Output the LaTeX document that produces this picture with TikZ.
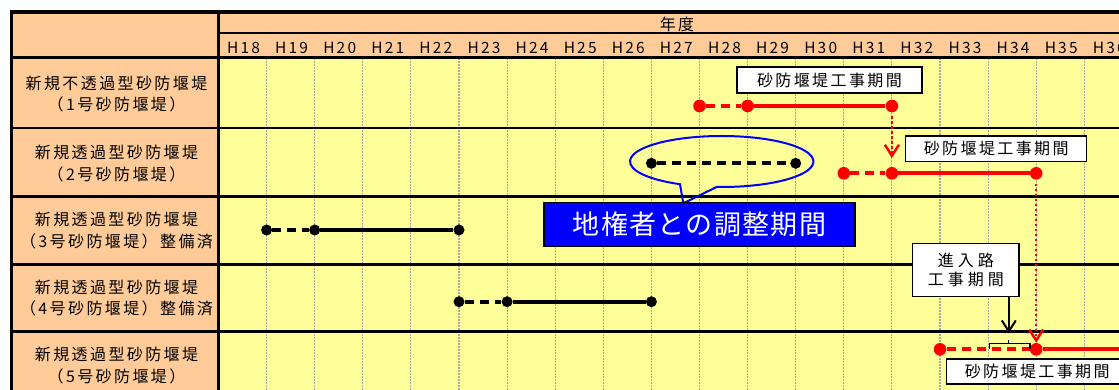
\documentclass[tikz,border=0pt]{standalone}
\usepackage{fontspec}
\setmainfont{Noto Sans CJK JP}
\newfontfamily\jpA[LetterSpace=15]{Noto Sans CJK JP}
\newfontfamily\jpB[LetterSpace=25]{Noto Sans CJK JP}
\newfontfamily\jpC[LetterSpace=5]{Noto Sans CJK JP}
\newfontfamily\jpH[LetterSpace=14]{Noto Sans CJK JP}
\usetikzlibrary{arrows.meta,calc}
\definecolor{hdr}{HTML}{FFCC99}
\definecolor{ylw}{HTML}{FFFF99}
\definecolor{grd}{HTML}{A8A8A8}
\definecolor{pblue}{HTML}{0000FF}
\begin{document}
\begin{tikzpicture}[x=1pt,y=-1pt,
  gridln/.style={grd,line width=1.1pt,dash pattern=on 2pt off 1pt},
  frm/.style={black,line width=2.6pt},
  hlab/.style={font=\jpH\fontsize{15.5}{18}\selectfont,inner sep=0pt},
  rlab/.style={font=\jpA\fontsize{16}{21.5}\selectfont,align=center,inner sep=0pt},
  dotR/.style={circle,fill=red,inner sep=0pt,minimum size=12.6pt},
  dotK/.style={circle,fill=black,inner sep=0pt,minimum size=11pt},
  lnR/.style={red,line width=4pt},
  lnRd/.style={lnR,dash pattern=on 9pt off 6pt},
  lnK/.style={black,line width=3.6pt},
  lnKd/.style={lnK,dash pattern=on 9pt off 6pt},
  cbox/.style={draw=black,fill=white,line width=1.5pt,inner sep=0pt,
    font=\jpA\fontsize{16}{19}\selectfont,align=center},
  arR/.style={red,line width=2.5pt,dash pattern=on 2.5pt off 2.5pt,
    -{Straight Barb[length=11pt,width=14pt]}},
  arK/.style={black,line width=2pt,-{Straight Barb[length=11pt,width=14pt]}},
  callout/.style={pblue,line width=2pt}
]
\clip (0,0) rectangle (1119,390);
\fill[white] (0,0) rectangle (1119,390);
% backgrounds
\fill[hdr] (10,10) rectangle (1130,400);
\fill[ylw] (218,58) rectangle (1130,400);
% grid
\foreach \k in {1,...,18}
  \draw[gridln] ({218.5+48.1*\k},58) -- ({218.5+48.1*\k},400);
% frame and row lines
\draw[black,line width=4pt] (10,12) -- (1130,12);
\draw[black,line width=3.5pt] (11.5,10) -- (11.5,400);
\draw[black,line width=2pt] (218,33.3) -- (1130,33.3);
\draw[black,line width=3pt] (10,58) -- (1130,58);
\foreach \yy in {128,196.5,264.3,331.7}
  \draw[frm] (10,\yy) -- (1130,\yy);
\draw[black,line width=3pt] (218,12) -- (218,400);
% header texts
\node[font=\jpA\fontsize{16}{18}\selectfont,inner sep=0pt] (nendo) at (677,24.5) {年度};
\foreach \k [count=\n from 18] in {0,...,18}
  \node[hlab] (h\n) at ({243.5+48.1*\k},47.5) {H\n};
% row labels
\node[rlab] (l1) at (116.5,94) {新規不透過型砂防堰堤\\（1号砂防堰堤）};
\node[rlab] (l2) at (116.5,163.3) {新規透過型砂防堰堤\\（2号砂防堰堤）};
\node[rlab] (l3) at (116.5,230.7) {新規透過型砂防堰堤\\（3号砂防堰堤）整備済};
\node[rlab] (l4) at (116.5,298) {新規透過型砂防堰堤\\（4号砂防堰堤）整備済};
\node[rlab] (l5) at (116.5,365.7) {新規透過型砂防堰堤\\（5号砂防堰堤）};
% callout ellipse
\coordinate (ctip) at (683.3,203.3);
\draw[callout] (ctip) -- (716.74,186.96)
  arc[start angle=93.1,end angle=-242.95,x radius=91.7,y radius=25.5] -- cycle;
% row 1
\node[dotR] (a1) at (699.5,106) {};
\node[dotR] (a2) at (747.6,106) {};
\node[dotR] (a3) at (891.9,106) {};
\draw[lnRd] (a1) -- (a2);
\draw[lnR] (a2) -- (a3);
% row 2
\node[dotK] (b1) at (651.4,163.3) {};
\node[dotK] (b2) at (795.7,163.3) {};
\draw[lnKd] (b1) -- (b2);
\node[dotR] (c1) at (843.8,173.3) {};
\node[dotR] (c2) at (891.9,173.3) {};
\node[dotR] (c3) at (1036.2,173.3) {};
\draw[lnRd] (c1) -- (c2);
\draw[lnR] (c2) -- (c3);
% row 3
\node[dotK] (d1) at (266.6,230) {};
\node[dotK] (d2) at (314.7,230) {};
\node[dotK] (d3) at (459,230) {};
\draw[lnKd] (d1) -- (d2);
\draw[lnK] (d2) -- (d3);
% row 4
\node[dotK] (e1) at (459,301.7) {};
\node[dotK] (e2) at (507.1,301.7) {};
\node[dotK] (e3) at (651.4,301.7) {};
\draw[lnKd] (e1) -- (e2);
\draw[lnK] (e2) -- (e3);
% row 5
\node[dotR] (f1) at (940,349.3) {};
\node[dotR] (f2) at (1036.2,349.3) {};
\coordinate (fend) at (1130,349.3);
\draw[lnRd] (f1) -- (f2);
\draw[lnR] (f2) -- (fend);
% boxes
\node[cbox,minimum width=184.7pt,minimum height=26pt] (k1) at (829.4,80) {砂防堰堤工事期間};
\node[cbox,minimum width=181pt,minimum height=25.7pt] (k2) at (996.2,148.9) {砂防堰堤工事期間};
\node[cbox,minimum width=181pt,minimum height=25pt] (k5) at (1037.2,371.5) {砂防堰堤工事期間};
\node[cbox,font=\jpB\fontsize{16}{19}\selectfont,minimum width=106.3pt,minimum height=53.4pt] (kin) at (965.85,270) {進入路\\工事期間};
\node[draw=black,fill=pblue,text=white,line width=1.5pt,inner sep=0pt,
  minimum width=311pt,minimum height=44pt,font=\jpC\fontsize{27}{30}\selectfont]
  (kb) at (699.5,224.7) {地権者との調整期間};
% arrows
\draw[arR,shorten <=4pt,shorten >=8.7pt] (a3) -- (c2);
\draw[arR,shorten <=4pt] (c3) -- (f2);
\coordinate (brk) at (1008.8,340);
\draw[arK,shorten >=6.7pt] (kin.south -| brk) -- (brk);
\draw[black,line width=1.2pt] (989.3,348.5) -- (989.3,343.3) -- (1030,343.3) -- (1030,348.5);
\draw[black,line width=1.2pt] (brk) -- (1008.8,343.3);
\end{tikzpicture}
\end{document}
